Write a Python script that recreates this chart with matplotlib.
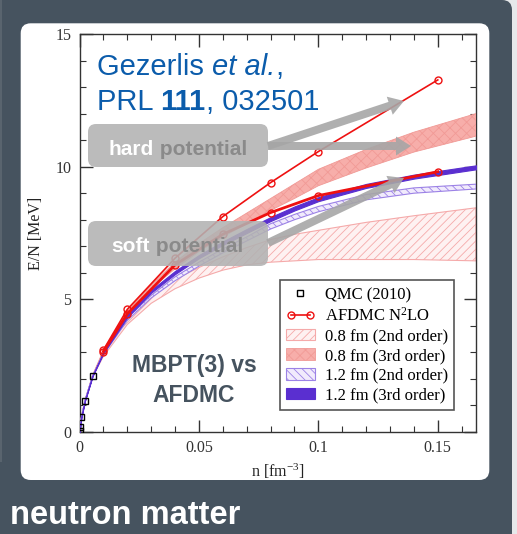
import matplotlib
matplotlib.use("Agg")
import matplotlib.pyplot as plt
from matplotlib.patches import FancyBboxPatch, FancyArrow, Rectangle
from matplotlib.legend_handler import HandlerLine2D

plt.rcParams["mathtext.default"] = "regular"
plt.rcParams["hatch.linewidth"] = 0.6

# Density grid shared by the MBPT bands (fm^-3)
n_grid = [0, 0.0008, 0.0023, 0.0055, 0.01, 0.02, 0.03, 0.04, 0.05, 0.06,
          0.07, 0.08, 0.09, 0.10, 0.12, 0.14, 0.166]

# MBPT bands, energy per particle (MeV)
r08_2nd_lo = [0, 0.55, 1.17, 2.08, 2.85, 4.05, 4.85, 5.40, 5.80, 6.10,
              6.30, 6.40, 6.45, 6.50, 6.50, 6.50, 6.45]
r08_2nd_hi = [0, 0.56, 1.19, 2.12, 2.95, 4.30, 5.15, 5.75, 6.20, 6.60,
              6.95, 7.25, 7.45, 7.60, 7.90, 8.15, 8.45]
r08_3rd_lo = [0, 0.56, 1.19, 2.13, 3.02, 4.45, 5.40, 6.15, 6.80, 7.35,
              7.85, 8.35, 8.80, 9.28, 9.95, 10.55, 11.15]
r08_3rd_hi = [0, 0.57, 1.20, 2.15, 3.08, 4.55, 5.55, 6.40, 7.10, 7.70,
              8.25, 8.80, 9.35, 9.90, 10.65, 11.30, 12.00]
r12_2nd_lo = [0, 0.55, 1.18, 2.10, 2.92, 4.20, 5.05, 5.70, 6.25, 6.75,
              7.20, 7.65, 8.00, 8.30, 8.75, 9.00, 9.16]
r12_2nd_hi = [0, 0.56, 1.19, 2.12, 2.97, 4.30, 5.15, 5.85, 6.40, 6.90,
              7.35, 7.85, 8.20, 8.50, 8.95, 9.20, 9.34]
r12_3rd_lo = [0, 0.55, 1.18, 2.11, 2.97, 4.32, 5.25, 5.95, 6.55, 7.05,
              7.50, 7.95, 8.35, 8.70, 9.20, 9.55, 9.90]
r12_3rd_hi = [0, 0.56, 1.19, 2.13, 3.02, 4.42, 5.35, 6.07, 6.67, 7.18,
              7.65, 8.10, 8.50, 8.85, 9.35, 9.70, 10.05]

# QMC (2010)
qmc_n = [0.0001, 0.0003, 0.0008, 0.0023, 0.0055]
qmc_e = [0.05, 0.20, 0.55, 1.18, 2.12]

# AFDMC N2LO, hard (0.8 fm) and soft (1.2 fm)
afdmc_n = [0.01, 0.02, 0.04, 0.06, 0.08, 0.10, 0.15]
afdmc_hard = [3.09, 4.62, 6.55, 8.12, 9.40, 10.57, 13.27]
afdmc_soft = [3.03, 4.45, 6.30, 7.45, 8.27, 8.91, 9.81]

x_ticks = [0, 0.05, 0.1, 0.15]
x_tick_labels = ["0", "0.05", "0.1", "0.15"]
y_ticks = [0, 5, 10, 15]
y_tick_labels = ["0", "5", "10", "15"]

slate = "#46535f"
sans = "Liberation Sans"
serif = "Liberation Serif"
W, H = 517, 534

fig = plt.figure(figsize=(W / 100, H / 100), dpi=100)
fig.patch.set_facecolor("#e6e8ea")

# background layer in pixel coordinates
bg = fig.add_axes([0, 0, 1, 1], zorder=0)
bg.set_xlim(0, W)
bg.set_ylim(H, 0)
bg.axis("off")
bg.add_patch(FancyBboxPatch((-40, 0), 552, 600,
                            boxstyle="round,pad=0,rounding_size=10",
                            fc=slate, ec="none"))
bg.add_patch(Rectangle((0, 0), 2, 462, fc="#59646e", ec="none"))
bg.add_patch(FancyBboxPatch((20.7, 23.3), 468.6, 456.7,
                            boxstyle="round,pad=0,rounding_size=10",
                            fc="white", ec="none"))
bg.text(10, 524, "neutron matter", color="white", fontsize=23.5,
        fontweight="bold", family=sans, va="baseline")

# the physics plot
ax = fig.add_axes([79.5 / W, 1 - 432 / H, 396.5 / W, 398 / H], zorder=1)
ax.set_facecolor("none")

b1 = ax.fill_between(n_grid, r08_2nd_lo, r08_2nd_hi, facecolor="#fef1f1",
                     edgecolor="#f5aaaa", hatch="////", linewidth=0.8,
                     label="0.8 fm (2nd order)", zorder=2)
b2 = ax.fill_between(n_grid, r08_3rd_lo, r08_3rd_hi, facecolor="#f7aeaa",
                     edgecolor="#f19a96", hatch="xxx", linewidth=0.6,
                     label="0.8 fm (3rd order)", zorder=3)
b3 = ax.fill_between(n_grid, r12_2nd_lo, r12_2nd_hi, facecolor="#f1ebfc",
                     edgecolor="#9c82e6", hatch="\\\\\\\\", linewidth=0.8,
                     label="1.2 fm (2nd order)", zorder=4)
b4 = ax.fill_between(n_grid, r12_3rd_lo, r12_3rd_hi, facecolor="#5a2fd0",
                     edgecolor="#5a2fd0", linewidth=0.8,
                     label="1.2 fm (3rd order)", zorder=5)

qmc, = ax.plot(qmc_n, qmc_e, ls="none", marker="s", ms=4.5, mfc="none",
               mec="black", mew=1.0, label="QMC (2010)", zorder=8)
afd, = ax.plot(afdmc_n, afdmc_hard, color="#ee1111", lw=1.2, marker="o",
               ms=5, mfc="none", mec="#ee1111", mew=1.0,
               label="AFDMC N$^2$LO", zorder=7)
ax.plot(afdmc_n, afdmc_soft, color="#ee1111", lw=2.0, marker="o",
        ms=5, mfc="none", mec="#ee1111", mew=1.0, zorder=7)

ax.set_xlim(0, 0.166)
ax.set_ylim(0, 15)
ax.set_xticks(x_ticks)
ax.set_xticklabels(x_tick_labels)
ax.set_yticks(y_ticks)
ax.set_yticklabels(y_tick_labels)
ax.set_xticks([i * 0.01 for i in range(17)], minor=True)
ax.set_yticks(range(16), minor=True)
ax.tick_params(which="both", direction="in", top=True, right=True,
               colors="#333333", labelsize=11.5, pad=6)
ax.tick_params(which="major", length=9, width=1.0)
ax.tick_params(which="minor", length=4.5, width=0.8)
for lab in ax.get_xticklabels() + ax.get_yticklabels():
    lab.set_family(serif)
for sp in ax.spines.values():
    sp.set_color("#333333")
    sp.set_linewidth(1.0)
ax.set_xlabel("n [fm$^{-3}$]", family=serif, fontsize=11.5, labelpad=4,
              color="#222222")
ax.set_ylabel("E/N [MeV]", family=serif, fontsize=11.5, labelpad=8,
              color="#222222")

leg = ax.legend(handles=[qmc, afd, b1, b2, b3, b4], loc="lower right",
                bbox_to_anchor=(0.9453, 0.0553), borderaxespad=0,
                fancybox=False, framealpha=1, edgecolor="#555555",
                prop={"family": serif, "size": 12}, handlelength=1.7,
                handletextpad=0.6, labelspacing=0.22, borderpad=0.4,
                numpoints=2,
                handler_map={qmc: HandlerLine2D(numpoints=1)})
leg.get_frame().set_linewidth(1.2)
leg.set_zorder(20)

# annotation layer in pixel coordinates
ov = fig.add_axes([0, 0, 1, 1], zorder=2)
ov.set_xlim(0, W)
ov.set_ylim(H, 0)
ov.axis("off")


def chain(x, y, parts, **kw):
    """Write text pieces one after another on a shared baseline."""
    t = ov.text(x, y, parts[0][0], va="baseline", **parts[0][1], **kw)
    for s, style in parts[1:]:
        t = ov.annotate(s, xy=(1, 0), xycoords=t, va="bottom", **style, **kw)
    return t


blue = dict(color="#0b5cab", fontsize=21, family=sans)
chain(97, 75, [("Gezerlis ", {}), ("et al.", {"style": "italic"}),
               (",", {})], **blue)
chain(97, 110, [("PRL ", {}), ("111", {"fontweight": "bold"}),
                (", 032501", {})], **blue)

box_gray = "#b2b2b2"
for y0, h in [(124, 43), (221, 45)]:
    ov.add_patch(FancyBboxPatch((88, y0), 180, h,
                                boxstyle="round,pad=0,rounding_size=8",
                                fc=box_gray, ec="none", alpha=0.88))

arrow_kw = dict(width=8, head_width=19, head_length=15,
                length_includes_head=True, fc="#a6a6a6", ec="none", alpha=0.9)
for (x0, y0, x1, y1) in [(268, 146, 404, 101), (268, 146, 411, 146),
                         (268, 243, 404, 178)]:
    ov.add_patch(FancyArrow(x0, y0, x1 - x0, y1 - y0, **arrow_kw))

label_kw = dict(fontsize=15, fontweight="bold", family=sans)
for x0, yb, word in [(108.3, 155, "hard"), (111.7, 252, "soft")]:
    chain(x0, yb, [(word, {"color": "white"}),
                   (" potential", {"color": "#8a8a8a"})], **label_kw)

ov.text(194, 372, "MBPT(3) vs", color=slate, ha="center", va="baseline",
        fontsize=16.5, fontweight="bold", family=sans)
ov.text(194, 402, "AFDMC", color=slate, ha="center", va="baseline",
        fontsize=16.5, fontweight="bold", family=sans)

fig.savefig("out.png", dpi=100)
